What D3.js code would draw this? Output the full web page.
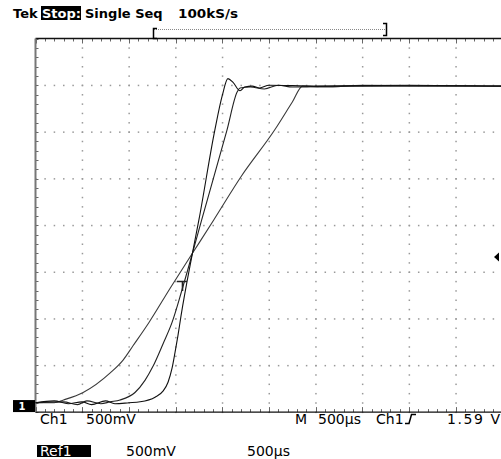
<!DOCTYPE html>
<html>
<head>
<meta charset="utf-8">
<script src="https://cdn.jsdelivr.net/npm/d3@7/dist/d3.min.js"></script>
<style>
  html, body { margin: 0; padding: 0; background: #fff; }
  svg { display: block; }
  text { font-family: "DejaVu Sans", sans-serif; }
</style>
</head>
<body>
<svg id="scope" width="501" height="459"></svg>
<script>
// time in ms, level in volts (500 mV/div, 500 us/div)
const seriesA = [
  [0, 0.03], [0.2, 0.05], [0.35, 0.02], [0.5, 0.04], [0.6, 0.01], [0.75, 0.05], [0.85, 0.02],
  [1.0, 0.03], [1.12, 0.04], [1.28, 0.09], [1.365, 0.155], [1.419, 0.25], [1.462, 0.4],
  [1.494, 0.57], [1.526, 0.755], [1.558, 0.96], [1.68, 1.63], [1.75, 1.99], [1.92, 2.95],
  [2.0, 3.32], [2.06, 3.5], [2.115, 3.46], [2.19, 3.37], [2.24, 3.41], [2.32, 3.42],
  [2.4, 3.4], [2.5, 3.43], [3.0, 3.42], [4.0, 3.43], [5.0, 3.42]
];
const seriesB = [
  [0, 0.03], [0.3, 0.04], [0.45, 0.01], [0.55, 0.05], [0.7, 0.02], [0.8, 0.04],
  [0.905, 0.06], [1.065, 0.14], [1.172, 0.27], [1.258, 0.42], [1.365, 0.66], [1.462, 0.89],
  [1.569, 1.24], [1.68, 1.63], [1.78, 1.99], [2.05, 2.95], [2.16, 3.36], [2.19, 3.4],
  [2.3, 3.41], [2.45, 3.39], [2.6, 3.43], [2.75, 3.41], [3.2, 3.42], [5.0, 3.42]
];
const seriesRef = [
  [0, 0.03], [0.2, 0.03], [0.3, 0.06], [0.51, 0.14], [0.8, 0.35], [0.94, 0.49],
  [1.044, 0.64], [1.215, 0.89], [1.45, 1.27], [1.68, 1.63], [1.91, 1.99], [2.2, 2.45],
  [2.56, 2.95], [2.75, 3.25], [2.86, 3.42], [3.1, 3.41], [3.5, 3.43], [5.0, 3.42]
];

const headerLabels = ['Tek', 'Stop:', 'Single Seq', '100kS/s'];
const ch1Labels = ['Ch1', '500mV', 'M', '500µs', 'Ch1', '1.59 V'];
const refLabels = ['Ref1', '500mV', '500µs'];
const triggerLevel = 1.59;

const svg = d3.select('#scope');

const X0 = 35.5, Y0 = 38.5, DIV = 46.7;
const gx = d3.scaleLinear().domain([0, 10]).range([X0, X0 + 10 * DIV]);
const gy = d3.scaleLinear().domain([0, 8]).range([Y0, Y0 + 8 * DIV]);
const x = d3.scaleLinear().domain([0, 5]).range(gx.range());
const y = d3.scaleLinear().domain([-0.07, 3.93]).range([gy(8), gy(0)]);

// graticule
const grid = svg.append('g').attr('fill', '#999');
const minorX = d3.range(0, 10.01, 0.2);
const minorY = d3.range(0, 8.01, 0.2);
for (let k = 1; k < 10; ++k) {
  grid.selectAll(null).data(minorY).enter().append('rect')
    .attr('x', gx(k) - 0.5).attr('y', d => gy(d) - 0.5)
    .attr('width', 1.5).attr('height', 1.5);
}
for (let k = 1; k < 8; ++k) {
  grid.selectAll(null).data(minorX).enter().append('rect')
    .attr('x', d => gx(d) - 0.5).attr('y', gy(k) - 0.5)
    .attr('width', 1.5).attr('height', 1.5);
}
// border ticks
const isMajor = d => Math.abs(d - Math.round(d)) < 1e-6;
const ticks = svg.append('g').attr('stroke', '#666').attr('stroke-width', 1);
ticks.selectAll(null).data(minorX).enter().append('line')
  .attr('x1', d => Math.round(gx(d)) + 0.5).attr('x2', d => Math.round(gx(d)) + 0.5)
  .attr('y1', gy(0)).attr('y2', d => gy(0) + (isMajor(d) ? 5 : 3));
ticks.selectAll(null).data(minorX).enter().append('line')
  .attr('x1', d => Math.round(gx(d)) + 0.5).attr('x2', d => Math.round(gx(d)) + 0.5)
  .attr('y1', gy(8)).attr('y2', d => gy(8) - (isMajor(d) ? 5 : 3));
ticks.selectAll(null).data(minorY).enter().append('line')
  .attr('y1', d => Math.round(gy(d)) + 0.5).attr('y2', d => Math.round(gy(d)) + 0.5)
  .attr('x1', gx(0)).attr('x2', gx(0) + 3);

svg.append('line').attr('x1', gx(0)).attr('x2', 501).attr('y1', gy(0)).attr('y2', gy(0))
  .attr('stroke', '#111').attr('stroke-width', 1.5);
svg.append('line').attr('x1', gx(0)).attr('x2', 501).attr('y1', gy(8)).attr('y2', gy(8))
  .attr('stroke', '#111').attr('stroke-width', 1.2);
svg.append('line').attr('x1', gx(0)).attr('x2', gx(0)).attr('y1', gy(0)).attr('y2', gy(8))
  .attr('stroke', '#777').attr('stroke-width', 2);

// traces
const line = d3.line().x(d => x(d[0])).y(d => y(d[1])).curve(d3.curveMonotoneX);
const traces = [
  { data: seriesRef, color: '#3a3a3a' },
  { data: seriesB, color: '#222' },
  { data: seriesA, color: '#111' },
];
svg.append('g').selectAll('path').data(traces).enter().append('path')
  .attr('d', d => line(d.data))
  .attr('fill', 'none')
  .attr('stroke', d => d.color)
  .attr('stroke-width', 1.1);

// trigger point marker
svg.append('path').attr('d', 'M177,281.5 H187 M182.5,281.5 V291')
  .attr('fill', 'none').attr('stroke', '#222').attr('stroke-width', 1.6);

// trigger level arrow
const ty = y(triggerLevel);
svg.append('path').attr('d', `M494,${ty} L499,${ty - 4.5} L499,${ty + 4.5} Z`).attr('fill', '#000');

// ground marker
svg.append('rect').attr('x', 13).attr('y', y(0) - 5.5).attr('width', 22).attr('height', 12).attr('fill', '#000');
svg.append('text').attr('x', 22).attr('y', y(0) + 4.5).attr('text-anchor', 'middle')
  .attr('font-size', 10).attr('font-weight', 'bold').attr('fill', '#fff').text('1');

// record bracket
svg.append('line').attr('x1', 154).attr('x2', 385).attr('y1', 29.5).attr('y2', 29.5)
  .attr('stroke', '#888').attr('stroke-dasharray', '1,1');
svg.append('path').attr('d', 'M157,28.5 H153.5 V38.5 H157').attr('fill', 'none').attr('stroke', '#000').attr('stroke-width', 1.5);
svg.append('path').attr('d', 'M383,23.5 H386.5 V35.5 H383').attr('fill', 'none').attr('stroke', '#000').attr('stroke-width', 1.5);

// header
const head = svg.append('g').attr('font-size', 13).attr('font-weight', 'bold');
head.append('text').attr('x', 13).attr('y', 18).text(headerLabels[0]);
head.append('rect').attr('x', 41).attr('y', 6).attr('width', 40).attr('height', 14).attr('fill', '#000');
head.append('text').attr('x', 42).attr('y', 18).attr('fill', '#fff').text(headerLabels[1]);
head.append('text').attr('x', 85).attr('y', 18).text(headerLabels[2]);
head.append('text').attr('x', 178).attr('y', 18).attr('textLength', 60).attr('lengthAdjust', 'spacingAndGlyphs').text(headerLabels[3]);

// channel readout
const ch1X = [40, 86, 295, 318, 376, 447];
svg.append('g').attr('font-size', 14).selectAll('text').data(ch1Labels).enter().append('text')
  .attr('x', (d, i) => ch1X[i]).attr('y', 424)
  .attr('textLength', (d, i) => i === 5 ? 53 : null)
  .text(d => d);
svg.append('path').attr('d', 'M405,423.5 H409 L411.5,414.5 H416').attr('fill', 'none').attr('stroke', '#000').attr('stroke-width', 1.5);

const refX = [40, 126, 247];
svg.append('rect').attr('x', 37).attr('y', 445).attr('width', 54).attr('height', 12).attr('fill', '#000');
svg.append('g').attr('font-size', 14).selectAll('text').data(refLabels).enter().append('text')
  .attr('x', (d, i) => refX[i]).attr('y', 456)
  .attr('fill', (d, i) => i === 0 ? '#fff' : '#000')
  .text(d => d);
</script>
</body>
</html>
